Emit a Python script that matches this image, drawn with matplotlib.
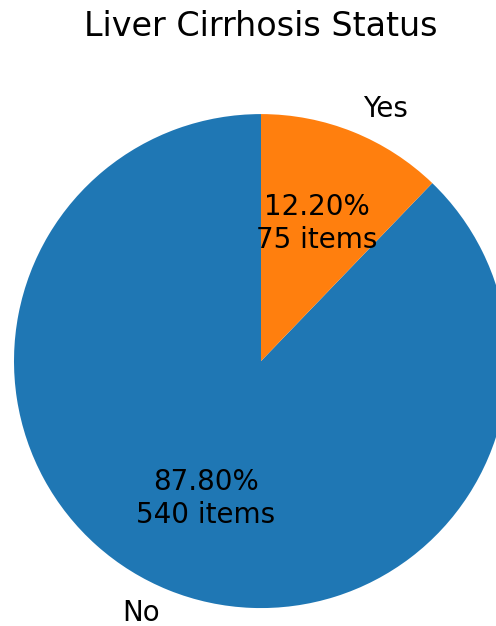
import matplotlib
matplotlib.use('Agg')
import matplotlib.pyplot as plt

# Cirrhosis counts per status
STATUS_LABELS = ['No', 'Yes']
STATUS_COUNTS = [540, 75]
TOTAL = sum(STATUS_COUNTS)


# Formats wedge text as percentage plus item count
def pct_with_count(pct):
    count = int(round(pct * TOTAL / 100))
    return f'{pct:.2f}%\n{count} items'


def plot_status():
    fig = plt.figure(figsize=(2.48, 3.13), dpi=200)
    ax = fig.add_axes([-0.0963, -0.070, 1.245, 0.9864])

    ax.pie(STATUS_COUNTS, labels=STATUS_LABELS, autopct=pct_with_count,
           startangle=90, colors=['#1f77b4', '#ff7f0e'],
           textprops={'fontsize': 10})
    ax.set_xlim(-1.25, 1.25)
    ax.set_ylim(-1.25, 1.25)
    ax.set_aspect('equal')
    ax.set_title('Liver Cirrhosis Status', fontsize=12)

    fig.savefig('out.png', dpi=200)


if __name__ == '__main__':
    plot_status()
